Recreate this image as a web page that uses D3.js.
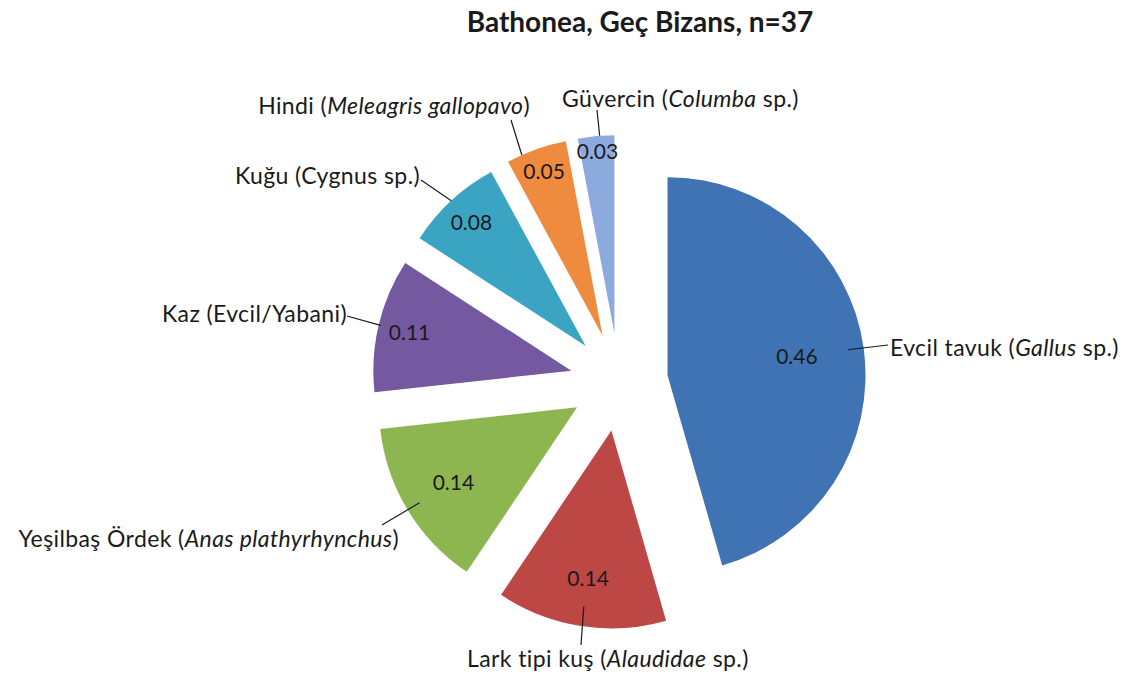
<!DOCTYPE html>
<html lang="tr">
<head>
    <meta charset="UTF-8">
    <title>Bathonea, Geç Bizans</title>
    <script src="https://cdn.jsdelivr.net/npm/d3@7/dist/d3.min.js"></script>
    <style>
        body {
            margin: 0;
            background: white;
            font-family: Lato, "Open Sans", sans-serif;
        }
        svg text {
            fill: #1a1a1a;
        }
    </style>
</head>
<body>
<script>
    // categories (label parts: [text, italic?]) and proportions
    var categories = [
        [["Evcil tavuk (", false], ["Gallus", true], [" sp.)", false]],
        [["Lark tipi kuş (", false], ["Alaudidae", true], [" sp.)", false]],
        [["Yeşilbaş Ördek (", false], ["Anas plathyrhynchus", true], [")", false]],
        [["Kaz (Evcil/Yabani)", false]],
        [["Kuğu (Cygnus sp.)", false]],
        [["Hindi (", false], ["Meleagris gallopavo", true], [")", false]],
        [["Güvercin (", false], ["Columba", true], [" sp.)", false]]
    ];
    var values = [0.46, 0.14, 0.14, 0.11, 0.08, 0.05, 0.03];
    var colors = ["#3f73b3", "#bc4745", "#8db550", "#7559a0", "#3aa4c2", "#ee8b3f", "#8daadf"];
    var title = "Bathonea, Geç Bizans, n=37";

    // layout for the value labels and the category labels
    var valueLabelRadius = [0.66, 0.76, 0.73, 0.84, 0.85, 0.88, 0.92];
    var catLabels = [
        {x: 890, y: 356, anchor: "start", lx: 888, ly: 345, frac: 0.5, rad: 0.92},
        {x: 467, y: 667, anchor: "start", lx: 581, ly: 645, frac: 0.5, rad: 0.9},
        {x: 399, y: 547, anchor: "end", lx: 382, ly: 525, frac: 0.5, rad: 0.93},
        {x: 347, y: 322, anchor: "end", lx: 347, ly: 316, frac: 0.5, rad: 0.99},
        {x: 420, y: 184, anchor: "end", lx: 421, ly: 180, frac: 0.5, rad: 1.0},
        {x: 530, y: 114, anchor: "end", lx: 511, ly: 120, frac: 0.25, rad: 1.0},
        {x: 562, y: 107, anchor: "start", lx: 597, ly: 110, frac: 0.6, rad: 1.0}
    ];

    var width = 1129, height = 677;
    var cx = 619, cy = 382, radius = 198, explode = 49;

    var svg = d3.select("body").append("svg")
        .attr("width", width)
        .attr("height", height);

    svg.append("text")
        .attr("x", 640)
        .attr("y", 32)
        .attr("text-anchor", "middle")
        .style("font-size", "28px")
        .style("font-weight", "bold")
        .text(title);

    var pie = d3.pie().sort(null).value(d => d);
    var arcs = pie(values);
    var arc = d3.arc().innerRadius(0).outerRadius(radius);

    function polar(a, r) {
        return [r * Math.sin(a), -r * Math.cos(a)];
    }
    // apex of each exploded slice
    arcs.forEach(function (d) {
        var mid = (d.startAngle + d.endAngle) / 2;
        var o = polar(mid, explode);
        d.ox = cx + o[0];
        d.oy = cy + o[1];
        d.mid = mid;
    });

    var slices = svg.selectAll("g.slice")
        .data(arcs)
        .enter()
        .append("g")
        .attr("class", "slice")
        .attr("transform", d => "translate(" + d.ox + "," + d.oy + ")");

    slices.append("path")
        .attr("d", arc)
        .style("fill", (d, i) => colors[i]);

    // leader lines
    svg.selectAll("line.leader")
        .data(arcs)
        .enter()
        .append("line")
        .attr("class", "leader")
        .attr("x1", (d, i) => catLabels[i].lx)
        .attr("y1", (d, i) => catLabels[i].ly)
        .attr("x2", (d, i) => {
            var a = d.startAngle + (d.endAngle - d.startAngle) * catLabels[i].frac;
            return d.ox + polar(a, radius * catLabels[i].rad)[0];
        })
        .attr("y2", (d, i) => {
            var a = d.startAngle + (d.endAngle - d.startAngle) * catLabels[i].frac;
            return d.oy + polar(a, radius * catLabels[i].rad)[1];
        })
        .attr("stroke", "#1a1a1a")
        .attr("stroke-width", 1.2);

    // value labels
    slices.append("text")
        .attr("x", (d, i) => polar(d.mid, radius * valueLabelRadius[i])[0])
        .attr("y", (d, i) => polar(d.mid, radius * valueLabelRadius[i])[1])
        .attr("dy", "0.35em")
        .attr("text-anchor", "middle")
        .style("font-size", "21px")
        .text(d => d3.format(".2f")(d.data));

    // category labels
    var cat = svg.selectAll("text.cat")
        .data(categories)
        .enter()
        .append("text")
        .attr("class", "cat")
        .attr("x", (d, i) => catLabels[i].x)
        .attr("y", (d, i) => catLabels[i].y)
        .attr("text-anchor", (d, i) => catLabels[i].anchor)
        .style("font-size", "23px")
        .style("letter-spacing", "0.4px");

    cat.selectAll("tspan")
        .data(d => d)
        .enter()
        .append("tspan")
        .style("font-style", p => p[1] ? "italic" : "normal")
        .text(p => p[0]);
</script>
</body>
</html>
